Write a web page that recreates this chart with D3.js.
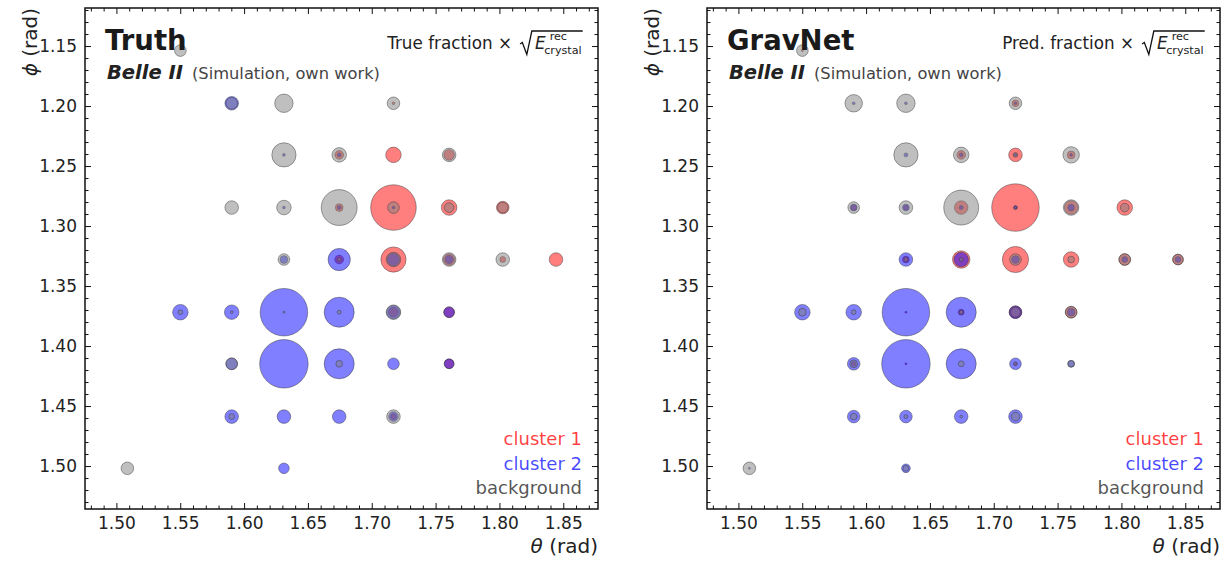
<!DOCTYPE html>
<html><head><meta charset="utf-8">
<script src="https://cdn.jsdelivr.net/npm/d3@7"></script>
<style>
html,body{margin:0;padding:0;background:#fff;}
svg{display:block;font-family:"DejaVu Sans",sans-serif;}
</style></head>
<body>
<svg id="chart" width="1230" height="561"></svg>
<script>
// crystal grid positions (rad)
const thetaGrid = [1.5086, 1.5501, 1.5903, 1.6312, 1.6745, 1.7170, 1.7606, 1.8026, 1.8443];
const phiGrid   = [1.1538, 1.1977, 1.2407, 1.2846, 1.3279, 1.3718, 1.4148, 1.4588, 1.5019];
// crystal index into grid
const crystalTheta = [1,2,3,5, 3,4,5,6, 2,3,4,5,6,7, 3,4,5,6,7,8, 1,2,3,4,5,6, 2,3,4,5,6, 2,3,4,5, 0,3];
const crystalPhi   = [0,1,1,1, 2,2,2,2, 3,3,3,3,3,3, 4,4,4,4,4,4, 5,5,5,5,5,5, 6,6,6,6,6, 7,7,7,7, 8,8];
// fraction x sqrt(E) per crystal
const truthCluster1   = [0,0,0,0.02, 0,0.20,0.64,0.30, 0,0,0.16,5.52,0.64,0.42, 0,0.20,1.69,0.36,0.09,0.49, 0,0,0,0,0.25,0.30, 0,0,0,0,0.25, 0,0,0,0.09, 0,0];
const truthCluster2   = [0,0.49,0,0, 0.02,0.04,0,0, 0,0.02,0.04,0.02,0,0, 0.16,1.32,0.42,0.20,0,0, 0.64,0.56,6.00,2.40,0.49,0.30, 0.36,6.25,2.40,0.36,0.25, 0.49,0.49,0.49,0.25, 0,0.30];
const truthBackground = [0.36,0.36,0.90,0.42, 1.56,0.56,0,0.49, 0.49,0.56,3.42,0.36,0.25,0.30, 0.36,0.04,0.56,0.49,0.49,0, 0.06,0.02,0.01,0.04,0.56,0, 0.36,0,0.12,0,0, 0.09,0,0,0.49, 0.42,0];
const predCluster1    = [0.01,0,0,0.12, 0,0.20,0.49,0.16, 0.09,0.06,0.49,6.00,0.49,0.64, 0.12,0.81,1.82,0.64,0.36,0.30, 0,0,0.01,0.09,0.42,0.36, 0.06,0.01,0,0.02,0, 0,0,0,0, 0,0];
const predCluster2    = [0,0.02,0.02,0.02, 0.04,0.04,0.02,0.02, 0.12,0.12,0.04,0.04,0.12,0, 0.49,0.56,0.16,0,0.09,0.09, 0.64,0.64,6.00,2.40,0.42,0.16, 0.42,6.25,2.40,0.36,0.12, 0.42,0.42,0.49,0.49, 0.01,0.20];
const predBackground  = [0.36,0.81,0.90,0.42, 1.56,0.64,0.06,0.72, 0.36,0.49,3.24,0.02,0.64,0.20, 0.04,0.04,0.36,0.12,0.36,0.30, 0.16,0.06,0,0.04,0.25,0.36, 0.16,0,0.09,0.04,0.12, 0.12,0.04,0.02,0.20, 0.42,0.09];
// axis ticks
const xMajorTicks = [1.50, 1.55, 1.60, 1.65, 1.70, 1.75, 1.80, 1.85];
const yMajorTicks = [1.15, 1.20, 1.25, 1.30, 1.35, 1.40, 1.45, 1.50];
const xDomain = [1.4754, 1.8772];
const yDomain = [1.1183, 1.5358];
const seriesNames = ["cluster 1", "cluster 2", "background"];

const svg = d3.select("#chart");
const FONT = "DejaVu Sans";
const yTop = 8, yBottom = 509;

const panels = [
  {x0: 85, x1: 598, title: "Truth", frac: "True fraction", series: [truthCluster1, truthCluster2, truthBackground]},
  {x0: 707, x1: 1220, title: "GravNet", frac: "Pred. fraction", series: [predCluster1, predCluster2, predBackground]}
];
const fillColors = ["rgb(255,0,0)", "rgb(0,0,255)", "rgb(128,128,128)"];
const textColors = ["rgba(255,0,0,0.75)", "rgba(0,0,255,0.72)", "rgba(40,40,40,0.8)"];

const rScale = d3.scaleSqrt().domain([0, 1]).range([0, 9.7]);

function minorTicks(dom) {
  const out = [];
  for (let v = Math.ceil(dom[0] * 100); v <= Math.floor(dom[1] * 100); v++) {
    if (v % 5 !== 0) out.push(v / 100);
  }
  return out;
}

function measure(str, size, style) {
  const t = svg.append("text").attr("font-family", FONT).attr("font-size", size)
    .attr("font-style", style || "normal").text(str);
  const w = t.node().getComputedTextLength();
  t.remove();
  return w;
}

panels.forEach(p => {
  const x = d3.scaleLinear().domain(xDomain).range([p.x0, p.x1]);
  const y = d3.scaleLinear().domain(yDomain).range([yTop, yBottom]);
  const g = svg.append("g");

  // bubbles: cluster1, cluster2, background
  p.series.forEach((vals, si) => {
    const data = vals.map((v, i) => ({v, t: thetaGrid[crystalTheta[i]], f: phiGrid[crystalPhi[i]]})).filter(d => d.v > 0);
    g.append("g").selectAll("circle").data(data).join("circle")
      .attr("cx", d => x(d.t)).attr("cy", d => y(d.f)).attr("r", d => rScale(d.v))
      .attr("fill", fillColors[si]).attr("fill-opacity", 0.5)
      .attr("stroke", "#333").attr("stroke-opacity", 0.45).attr("stroke-width", 1);
  });

  // axes
  const mk = (axis, ticks, size) => axis.tickValues(ticks).tickSize(size);
  const xMin = minorTicks(xDomain), yMin = minorTicks(yDomain);
  g.append("g").attr("transform", `translate(0,${yBottom})`)
    .call(mk(d3.axisBottom(x), xMajorTicks, -6).tickPadding(8).tickFormat(d3.format(".2f")));
  g.append("g").attr("transform", `translate(0,${yBottom})`).call(mk(d3.axisBottom(x), xMin, -3.5).tickFormat(""));
  g.append("g").attr("transform", `translate(0,${yTop})`).call(mk(d3.axisTop(x), xMajorTicks, -6).tickFormat(""));
  g.append("g").attr("transform", `translate(0,${yTop})`).call(mk(d3.axisTop(x), xMin, -3.5).tickFormat(""));
  g.append("g").attr("transform", `translate(${p.x0},0)`)
    .call(mk(d3.axisLeft(y), yMajorTicks, -6).tickPadding(8).tickFormat(d3.format(".2f")));
  g.append("g").attr("transform", `translate(${p.x0},0)`).call(mk(d3.axisLeft(y), yMin, -3.5).tickFormat(""));
  g.append("g").attr("transform", `translate(${p.x1},0)`).call(mk(d3.axisRight(y), yMajorTicks, -6).tickFormat(""));
  g.append("g").attr("transform", `translate(${p.x1},0)`).call(mk(d3.axisRight(y), yMin, -3.5).tickFormat(""));
  g.selectAll(".domain").remove();
  g.selectAll(".tick line").attr("stroke", "#111").attr("stroke-width", 1);
  g.selectAll(".tick text").attr("font-family", FONT).attr("font-size", 17).attr("fill", "#222");

  g.append("rect").attr("x", p.x0).attr("y", yTop).attr("width", p.x1 - p.x0).attr("height", yBottom - yTop)
    .attr("fill", "none").attr("stroke", "#111").attr("stroke-width", 1.5);

  // axis labels
  const xl = g.append("text").attr("x", p.x1).attr("y", 553).attr("text-anchor", "end")
    .attr("font-family", FONT).attr("font-size", 20).attr("fill", "#222");
  xl.append("tspan").attr("font-style", "italic").text("θ");
  xl.append("tspan").text(" (rad)");
  const yl = g.append("text").attr("transform", `translate(${p.x0 - 48},${yTop}) rotate(-90)`).attr("text-anchor", "end")
    .attr("font-family", FONT).attr("font-size", 20).attr("fill", "#222");
  yl.append("tspan").attr("font-style", "italic").text("ϕ");
  yl.append("tspan").text(" (rad)");

  // titles
  g.append("text").attr("x", p.x0 + 20).attr("y", 49.5).attr("font-family", FONT).attr("font-weight", "bold")
    .attr("font-size", 27.5).attr("fill", "#1a1a1a").text(p.title);
  const bl = g.append("text").attr("x", p.x0 + 22).attr("y", 79).attr("font-family", FONT).attr("font-size", 16.3).attr("fill", "#444");
  bl.append("tspan").attr("font-weight", "bold").attr("font-style", "italic").attr("font-size", 19.5).attr("fill", "#222").text("Belle II");
  bl.append("tspan").attr("dx", 9).text("(Simulation, own work)");

  // fraction annotation, right-aligned
  const R = p.x1 - 15.3;
  const fs = 16.8, ss = 11.2;
  const wC = measure("crystal", ss), wE = measure("E", fs, "italic"), w1 = measure(p.frac + " ×", fs);
  const cX = R - wC - 1;
  const eX = cX - wE + 1.5;
  const sX = eX - 15;
  const tX = sX - 8 - w1;
  g.append("path")
    .attr("d", `M${sX},44 L${sX + 2.3},42.5 L${sX + 6.8},54.5 L${sX + 11.8},31 L${R},31`)
    .attr("fill", "none").attr("stroke", "#111").attr("stroke-width", 1.3);
  const ann = g.append("text").attr("font-family", FONT).attr("fill", "#222");
  ann.append("tspan").attr("x", tX).attr("y", 48.7).attr("font-size", fs).text(p.frac + " ×");
  ann.append("tspan").attr("x", eX).attr("y", 48.7).attr("font-size", fs).attr("font-style", "italic").text("E");
  g.append("text").attr("font-family", FONT).attr("fill", "#222").attr("x", cX + 5.5).attr("y", 39.8)
    .attr("font-size", ss).text("rec");
  g.append("text").attr("font-family", FONT).attr("fill", "#222").attr("x", cX).attr("y", 53.6)
    .attr("font-size", ss).text("crystal");

  // legend text
  seriesNames.forEach((n, i) => {
    g.append("text").attr("x", p.x1 - 16).attr("y", 445 + i * 24.5).attr("text-anchor", "end")
      .attr("font-family", FONT).attr("font-size", 18).attr("fill", textColors[i]).text(n);
  });
});
</script>
</body></html>
